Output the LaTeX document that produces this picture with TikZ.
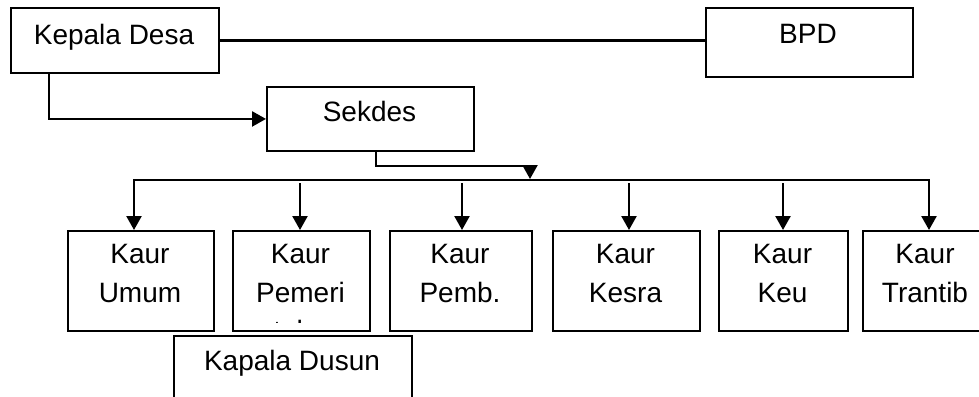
\documentclass[tikz,border=0pt]{standalone}
\usepackage{fontspec}
\setmainfont{Liberation Sans}
\usetikzlibrary{arrows.meta}
\begin{document}
\begin{tikzpicture}[x=1pt,y=-1pt,
  >={Triangle[length=14pt,width=15pt]},
  box/.style={draw, line width=1.9pt, rectangle, inner sep=0pt, anchor=north west},
  txt/.style={anchor=base, inner sep=0pt, font=\fontsize{28}{33}\selectfont},
  con/.style={line width=2.4pt},
  arr/.style={con, ->}]
\useasboundingbox (0,0) rectangle (979,396);
\clip (0,0) rectangle (979,396);
% boxes
\node[box, minimum width=208pt, minimum height=65pt] (kd) at (10,7) {};
\node[box, minimum width=207pt, minimum height=69pt] (bpd) at (705,7) {};
\node[box, minimum width=207pt, minimum height=64pt] (sek) at (266,86) {};
\node[box, minimum width=146pt, minimum height=100pt] (k1) at (67,230) {};
\node[box, minimum width=137pt, minimum height=100pt] (k2) at (232,230) {};
\node[box, minimum width=142pt, minimum height=100pt] (k3) at (389,230) {};
\node[box, minimum width=147pt, minimum height=100pt] (k4) at (552,230) {};
\node[box, minimum width=129pt, minimum height=100pt] (k5) at (718,230) {};
\node[box, minimum width=126pt, minimum height=100pt] (k6) at (862,230) {};
\node[box, minimum width=238pt, minimum height=90pt] (kdus) at (173,335) {};
% texts
\node[txt] (kdt) at (114,45) {Kepala Desa};
\node[txt] (bpdt) at (808,44) {BPD};
\node[txt] (sekt) at (369.5,121) {Sekdes};
\node[txt] (k1a) at (140,263) {Kaur};
\node[txt] (k1b) at (140,302) {Umum};
\node[txt] (k2a) at (300.5,263) {Kaur};
\node[txt] (k2b) at (300.5,302) {Pemeri};
\begin{scope}
\clip (232,230) rectangle (369,322);
\node[txt] (k2c) at (300.5,340) {ntahan};
\end{scope}
\node[txt] (k3a) at (460,263) {Kaur};
\node[txt] (k3b) at (460,302) {Pemb.};
\node[txt] (k4a) at (625.5,263) {Kaur};
\node[txt] (k4b) at (625.5,302) {Kesra};
\node[txt] (k5a) at (782.5,263) {Kaur};
\node[txt] (k5b) at (782.5,302) {Keu};
\node[txt] (k6a) at (925,263) {Kaur};
\node[txt] (k6b) at (925,302) {Trantib};
\node[txt] (kdust) at (292,370) {Kapala Dusun};
% connectors
\draw[con] (kd.east) -- (kd.east -| bpd.west);
\draw[arr] ([xshift=39pt]kd.south west) |- (sek.west);
\coordinate (sa) at (530,166);
\coordinate (sb) at (530,179);
\draw[arr] ([xshift=110pt]sek.south west) |- (sa) -- (sb);
\coordinate (bl) at (134,180);
\coordinate (br) at (929,180);
\draw[con, <->] (bl |- k1.north) -- (bl) -- (br) -- (br |- k6.north);
\coordinate (a2) at (300,183);
\coordinate (a3) at (462,183);
\coordinate (a4) at (629,183);
\coordinate (a5) at (783,183);
\draw[arr] (a2) -- (a2 |- k2.north);
\draw[arr] (a3) -- (a3 |- k3.north);
\draw[arr] (a4) -- (a4 |- k4.north);
\draw[arr] (a5) -- (a5 |- k5.north);
\end{tikzpicture}
\end{document}
